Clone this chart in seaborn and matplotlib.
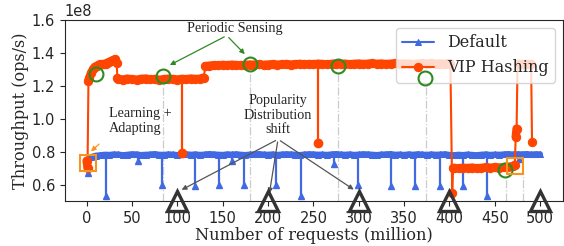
import numpy as np
import matplotlib
matplotlib.use("Agg")
import matplotlib.pyplot as plt
import seaborn as sns
import pandas as pd

SCALE = 1e8

# Default: baseline sampled every 5M requests, plus the periodic dips
blue_x = np.arange(0, 505, 5)
blue_y = [
    0.74, 0.768, 0.776, 0.779, 0.782, 0.781, 0.784, 0.783, 0.779, 0.782,
    0.785, 0.784, 0.780, 0.782, 0.783, 0.786, 0.782, 0.781, 0.784, 0.783,
    0.780, 0.783, 0.785, 0.782, 0.784, 0.781, 0.783, 0.786, 0.784, 0.782,
    0.781, 0.784, 0.783, 0.785, 0.782, 0.780, 0.783, 0.784, 0.786, 0.783,
    0.782, 0.784, 0.781, 0.783, 0.785, 0.784, 0.782, 0.780, 0.783, 0.785,
    0.784, 0.782, 0.783, 0.781, 0.784, 0.786, 0.783, 0.782, 0.784, 0.781,
    0.783, 0.785, 0.784, 0.782, 0.780, 0.783, 0.784, 0.786, 0.782, 0.783,
    0.781, 0.784, 0.782, 0.785, 0.783, 0.781, 0.784, 0.782, 0.783, 0.785,
    0.781, 0.779, 0.782, 0.780, 0.783, 0.781, 0.779, 0.782, 0.784, 0.781,
    0.783, 0.782, 0.784, 0.786, 0.783, 0.785, 0.784, 0.786, 0.783, 0.785,
    0.784,
]
blue_dip_x = [1, 21, 57, 83, 119, 146, 160, 173, 209, 236, 273, 299, 336, 362, 390, 415, 441, 477]
blue_dip_y = [0.67, 0.53, 0.74, 0.60, 0.59, 0.60, 0.745, 0.60, 0.60, 0.53, 0.725, 0.60,
              0.59, 0.59, 0.59, 0.59, 0.53, 0.755]
BLUE_BASE = 0.782

# VIP Hashing
orange_x = ([0, 1, 2, 3, 5, 7, 9, 11, 13, 15, 17, 19, 21, 23, 25, 27, 29, 31, 33, 34]
            + list(range(35, 126, 5)) + [129, 131]
            + list(range(135, 401, 5)) + [401, 403, 404]
            + list(range(405, 471, 5)) + [472, 473, 474, 475, 480, 485, 490, 491])
orange_y = ([0.745, 0.70, 1.23, 1.25, 1.28, 1.30, 1.315, 1.32, 1.325, 1.33,
             1.33, 1.332, 1.335, 1.34, 1.345, 1.35, 1.355, 1.36, 1.34, 1.245]
            + [1.241, 1.238, 1.243, 1.240, 1.237, 1.242, 1.244, 1.239, 1.241, 1.236,
               1.240, 1.243, 1.241, 1.238, 1.242, 1.240, 1.244, 1.241, 1.243]
            + [1.25, 1.32]
            + [1.322, 1.325, 1.324, 1.327, 1.325, 1.328, 1.326, 1.324, 1.327, 1.329,
               1.328, 1.330, 1.327, 1.329, 1.331, 1.328, 1.330, 1.332, 1.329, 1.331,
               1.333, 1.330, 1.332, 1.331, 1.334, 1.332, 1.330, 1.333, 1.335, 1.332,
               1.334, 1.331, 1.333, 1.335, 1.332, 1.334, 1.336, 1.333, 1.335, 1.332,
               1.334, 1.336, 1.333, 1.335, 1.334, 1.332, 1.335, 1.337, 1.334, 1.336,
               1.333, 1.335, 1.334, 1.336]
            + [1.33, 0.55, 0.70]
            + [0.701, 0.698, 0.702, 0.700, 0.703, 0.699, 0.701, 0.704, 0.702, 0.705,
               0.703, 0.706, 0.708, 0.712]
            + [0.72, 0.89, 0.94, 1.33, 1.33, 1.33, 1.33, 0.86])
# x positions where VIP Hashing jumps between levels
orange_breaks = [1.5, 33.5, 130, 402, 403.5, 472.5, 474.5, 490.5]
orange_dip_x = [105, 255]
orange_dip_y = [0.79, 0.85]
orange_dip_top = [1.24, 1.33]

# annotation marks
sense_x = [10, 84, 180, 277, 373, 461]
sense_y = [1.27, 1.26, 1.33, 1.32, 1.25, 0.69]
guide_x = [84, 180, 277, 374, 462, 481]
guide_top = [1.22, 1.29, 1.28, 1.21, 0.65, 0.67]
box_x = [1, 472]
box_y = [0.73, 0.715]
shift_x = [100, 200, 300, 400, 500]

BLUE = "#4169E1"
ORANGE = "#FF4500"
GREEN = "#2E8B22"
BOXC = "#F7941D"
GRAY = "#555555"

sns.set_style("ticks")
plt.rcParams["font.family"] = ["DejaVu Sans"]
plt.rcParams["xtick.major.size"] = 3.5
plt.rcParams["ytick.major.size"] = 3.5

fig = plt.figure(figsize=(5.64, 2.46), dpi=100)
ax = fig.add_axes([0.115, 0.183, 0.883, 0.736])

blue = pd.DataFrame({"x": blue_x, "y": np.array(blue_y) * SCALE})
orange = pd.DataFrame({"x": orange_x, "y": np.array(orange_y) * SCALE})
orange["seg"] = np.searchsorted(orange_breaks, orange["x"])

# thick band layers (the dense measurements), drawn per level
sns.lineplot(data=blue, x="x", y="y", ax=ax, color=BLUE, linewidth=4.2,
             estimator=None, sort=False, legend=False, zorder=3)
sns.lineplot(data=orange, x="x", y="y", units="seg", ax=ax, color=ORANGE, linewidth=6,
             estimator=None, sort=False, legend=False, zorder=4)

sns.lineplot(data=blue, x="x", y="y", ax=ax, color=BLUE, marker="^", markersize=5,
             markeredgecolor=BLUE, linewidth=1.5, estimator=None, sort=False,
             label="Default", zorder=3)
ax.vlines(blue_dip_x, np.array(blue_dip_y) * SCALE, BLUE_BASE * SCALE, color=BLUE,
          linewidth=1.6, zorder=3)
ax.plot(blue_dip_x, np.array(blue_dip_y) * SCALE, "^", color=BLUE, markersize=4.5, zorder=3)

sns.lineplot(data=orange, x="x", y="y", ax=ax, color=ORANGE, marker="o", markersize=6,
             markeredgecolor=ORANGE, linewidth=1.5, estimator=None, sort=False,
             label="VIP Hashing", zorder=4)
ax.vlines(orange_dip_x, np.array(orange_dip_y) * SCALE, np.array(orange_dip_top) * SCALE,
          color=ORANGE, linewidth=1.6, zorder=4)
ax.plot(orange_dip_x, np.array(orange_dip_y) * SCALE, "o", color=ORANGE, markersize=6, zorder=4)

# guides, circles, boxes, triangles
ax.vlines(guide_x, 0.5 * SCALE, np.array(guide_top) * SCALE, color="#cccccc",
          linewidth=0.9, linestyles="-.", zorder=1)
ax.plot(sense_x, np.array(sense_y) * SCALE, "o", markersize=10, markerfacecolor="none",
        markeredgecolor=GREEN, markeredgewidth=1.5, zorder=6)
ax.plot(box_x, np.array(box_y) * SCALE, "s", markersize=12, markerfacecolor="none",
        markeredgecolor=BOXC, markeredgewidth=1.5, zorder=6)
ax.plot(shift_x, [0.5 * SCALE] * len(shift_x), "^", markersize=14, markerfacecolor="none",
        markeredgecolor="#333333", markeredgewidth=2.4, clip_on=False, zorder=7)

# text annotations
afont = dict(family="Liberation Serif", size=10.2)
ax.text(163, 1.55 * SCALE, "Periodic Sensing", ha="center", va="center", **afont)
for tx, ty in [(89, 1.318), (176.5, 1.38)]:
    ax.annotate("", xy=(tx, ty * SCALE), xytext=(154.5, 1.505 * SCALE),
                arrowprops=dict(arrowstyle="-|>", color=GREEN, lw=0.9, mutation_scale=7))

ax.text(25, 0.985 * SCALE, "Learning +\nAdapting", ha="left", va="center",
        linespacing=1.15, **afont)
ax.annotate("", xy=(2.5, 0.79 * SCALE), xytext=(16, 0.857 * SCALE),
            arrowprops=dict(arrowstyle="-|>", color=BOXC, lw=0.9, mutation_scale=7))

ax.text(211, 1.02 * SCALE, "Popularity\nDistribution\nshift", ha="center", va="center",
        linespacing=1.15, **afont)
for tx, ty in [(102, 0.56), (201, 0.53), (297, 0.56)]:
    ax.annotate("", xy=(tx, ty * SCALE), xytext=(211, 0.875 * SCALE),
                arrowprops=dict(arrowstyle="-|>", color=GRAY, lw=0.9, mutation_scale=7))

ax.set_xlim(-24, 525)
ax.set_ylim(0.5 * SCALE, 1.6 * SCALE)
ax.set_xticks(range(0, 501, 50))
ax.set_yticks(np.array([0.6, 0.8, 1.0, 1.2, 1.4, 1.6]) * SCALE)
ax.tick_params(labelsize=10.5)
ax.yaxis.get_offset_text().set_fontsize(10.5)
ax.set_xlabel("Number of requests (million)", family="DejaVu Serif", fontsize=11.6, labelpad=1)
ax.set_ylabel("Throughput (ops/s)", family="DejaVu Serif", fontsize=11.6, labelpad=2)
ax.legend(loc="upper right", prop={"family": "DejaVu Serif", "size": 11.5})

fig.savefig("out.png", dpi=100)
